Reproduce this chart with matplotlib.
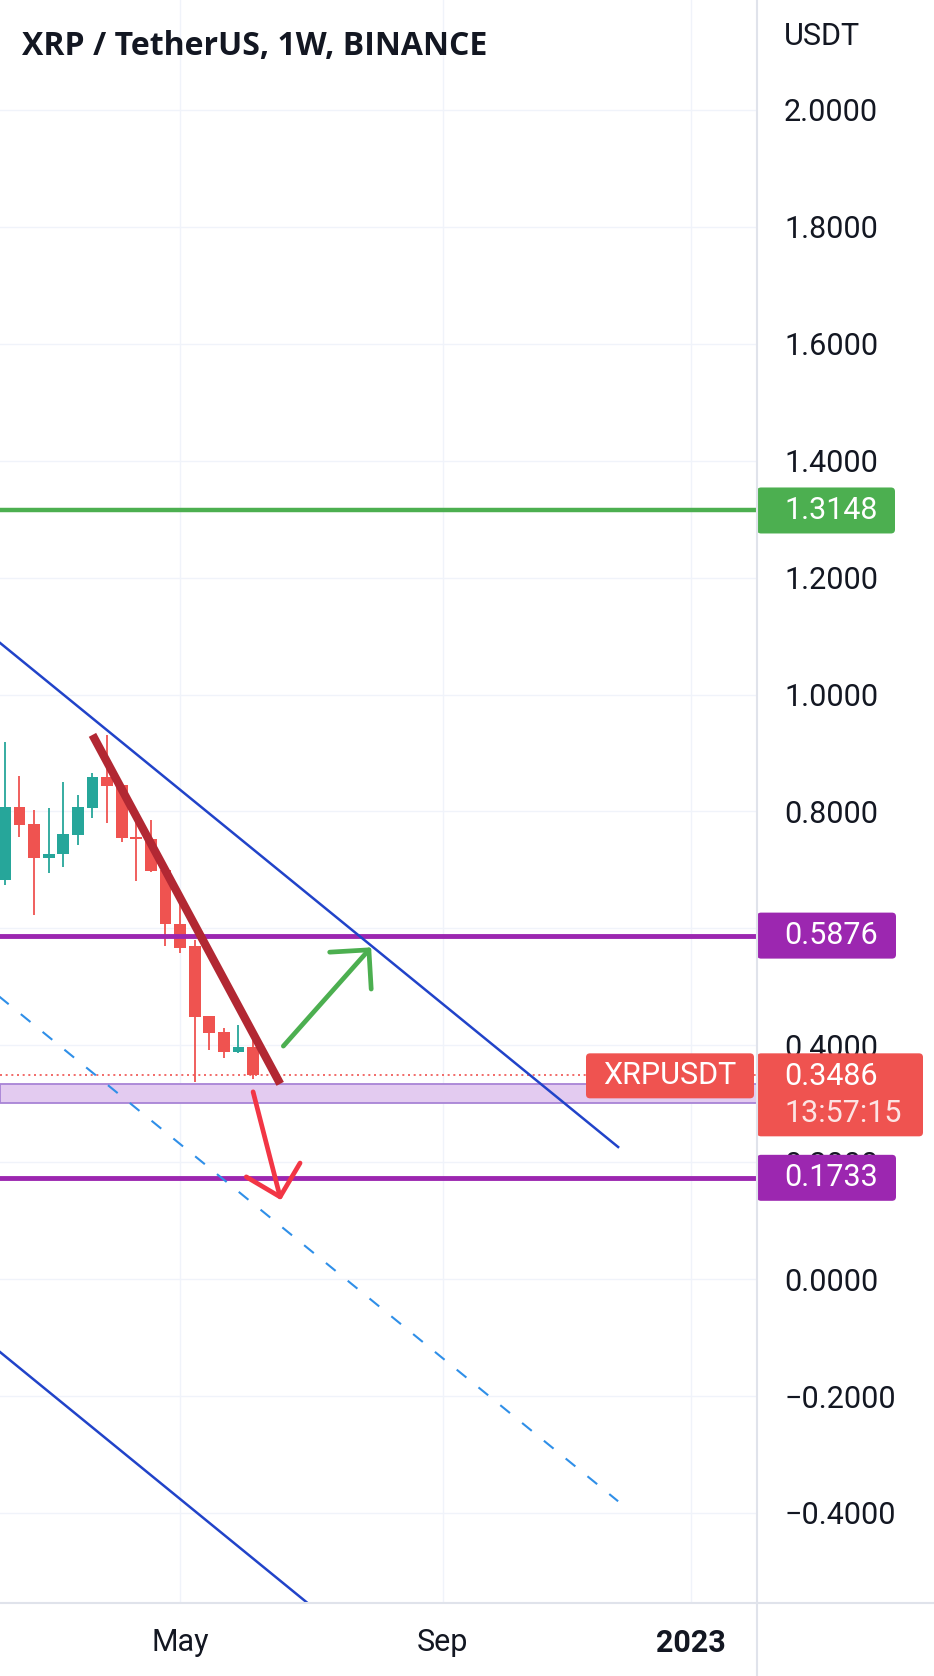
import numpy as np
import pandas as pd
import matplotlib
matplotlib.use('Agg')
import matplotlib.pyplot as plt
from matplotlib.patches import FancyBboxPatch
from matplotlib.lines import Line2D

plt.rcParams['font.family'] = ['Roboto', 'DejaVu Sans']

# weekly candles (XRP/USDT, Binance)
weeks = pd.date_range('2022-02-07', periods=18, freq='7D')
opens = [0.683, 0.808, 0.778, 0.721, 0.727, 0.760, 0.806, 0.859, 0.845,
         0.757, 0.752, 0.700, 0.607, 0.569, 0.450, 0.423, 0.388, 0.397]
highs = [0.919, 0.861, 0.802, 0.806, 0.851, 0.828, 0.866, 0.931, 0.845,
         0.791, 0.786, 0.703, 0.660, 0.580, 0.450, 0.429, 0.435, 0.415]
lows = [0.674, 0.756, 0.623, 0.695, 0.705, 0.743, 0.789, 0.781, 0.748,
        0.681, 0.696, 0.569, 0.558, 0.338, 0.392, 0.378, 0.386, 0.342]
closes = [0.808, 0.777, 0.721, 0.727, 0.761, 0.808, 0.859, 0.843, 0.755,
          0.752, 0.698, 0.607, 0.567, 0.449, 0.421, 0.389, 0.397, 0.3486]

last_price = 0.3486
countdown = '13:57:15'
green_level = 1.3148
purple_levels = [0.5876, 0.1733]
zone = [0.3016, 0.3336]

# drawings (date, price)
chan_top_x = ['2022-02-01', '2022-11-28']
chan_top_y = [1.099, 0.226]
chan_mid_x = ['2022-02-01', '2022-11-28']
chan_mid_y = [0.493, -0.380]
chan_bot_x = ['2022-02-01', '2022-07-10']
chan_bot_y = [-0.114, -0.577]
trend_x = ['2022-03-21', '2022-06-19']
trend_y = [0.931, 0.334]
up_arrow = [('2022-06-20 12:00', 0.3986), ('2022-08-01 14:00', 0.5675)]
down_arrow = [('2022-06-06', 0.3204), ('2022-06-19 08:00', 0.1352)]

yticks = np.round(np.arange(-0.4, 2.01, 0.2), 1)
xtick_dates = ['2022-05-02', '2022-09-05', '2023-01-02']
xtick_labels = ['May', 'Sep', '2023']

up_c = '#26a69a'
down_c = '#ef5350'
txt_c = '#131722'
W, H = 934, 1676

fig = plt.figure(figsize=(W / 100, H / 100), dpi=100)
ax = fig.add_axes([0, 73 / H, 757 / W, 1603 / H])
ax2 = fig.add_axes([757 / W, 73 / H, 177 / W, 1603 / H])

ax.set_xlim(pd.Timestamp('2022-02-04 16:00'), pd.Timestamp('2023-02-02 14:00'))
ax.set_ylim(-0.554, 2.188)

# candles
d = pd.to_datetime(weeks)
cols = [up_c if c >= o else down_c for o, c in zip(opens, closes)]
ax.vlines(d, lows, highs, colors=cols, lw=1.3, zorder=3)
ax.bar(d, np.array(closes) - np.array(opens), bottom=opens, width=5.6,
       color=cols, zorder=3)

# zone + levels
ax.axhspan(zone[0], zone[1], facecolor='#e3cbf0', edgecolor='#a884d6', lw=1.3, zorder=2)
ax.axhline(last_price, color=down_c, lw=1.2, ls=(0, (1.2, 2.2)), zorder=2)
ax.axhline(green_level, color='#4caf50', lw=3.2, zorder=4)
for lv in purple_levels:
    ax.axhline(lv, color='#9c27b0', lw=3.5, zorder=4)

# channel
ax.plot(pd.to_datetime(chan_top_x), chan_top_y, color='#2143c9', lw=1.8, zorder=4)
ax.plot(pd.to_datetime(chan_bot_x), chan_bot_y, color='#2143c9', lw=1.8, zorder=4)
ax.plot(pd.to_datetime(chan_mid_x), chan_mid_y, color='#2f8fe8', lw=1.5,
        ls=(0, (6, 7.5)), zorder=4)
ax.plot(pd.to_datetime(trend_x), trend_y, color='#b22833', lw=6,
        solid_capstyle='butt', zorder=5)

for (t0, p0), (t1, p1), c in [(up_arrow[0], up_arrow[1], '#4caf50'),
                              (down_arrow[0], down_arrow[1], '#f23645')]:
    ax.annotate('', xy=(pd.Timestamp(t1), p1), xytext=(pd.Timestamp(t0), p0),
                arrowprops=dict(arrowstyle='->,head_length=1,head_width=1',
                                mutation_scale=20, color=c, lw=3.4,
                                shrinkA=0, shrinkB=0), zorder=6)

# axes style
for s in ax.spines.values():
    s.set_visible(False)
ax.yaxis.tick_right()
ax.set_yticks(yticks)
ax.set_yticklabels([f'{v:.4f}'.replace('-', '\u2212') for v in yticks])
ax.set_xticks(pd.to_datetime(xtick_dates))
ax.set_xticklabels(xtick_labels)
ax.get_xticklabels()[2].set_fontweight('bold')
ax.tick_params(axis='y', length=0, pad=19.5, labelsize=22, labelcolor=txt_c)
ax.tick_params(axis='x', length=0, pad=18, labelsize=22, labelcolor=txt_c)
ax.grid(color='#f0f3fa', lw=1)
ax.set_axisbelow(True)

fig.add_artist(Line2D([757 / W, 757 / W], [0, 1], color='#e0e3eb', lw=1.5))
fig.add_artist(Line2D([0, 1], [73 / H, 73 / H], color='#e0e3eb', lw=1.5))

fig.text(21.7 / W, 1 - 55 / H, 'XRP / TetherUS, 1W, BINANCE', family='Open Sans',
         fontweight='bold', fontsize=23, color=txt_c, va='baseline')
fig.text(784 / W, 1 - 45 / H, 'USDT', fontsize=22, color=txt_c, va='baseline')

# price scale labels (ax2: x in pixels)
ax2.set_xlim(0, 177)
ax2.set_ylim(ax.get_ylim())
ax2.axis('off')
ppx = (ax.get_ylim()[1] - ax.get_ylim()[0]) / 1603
aspect = ppx


def tag(x0, w, y_top, y_bot, color):
    ax2.add_patch(FancyBboxPatch((x0, y_bot), w, y_top - y_bot,
                                 boxstyle='round,pad=0,rounding_size=4',
                                 mutation_aspect=aspect, fc=color, ec='none',
                                 clip_on=False, zorder=5))


tag(0, 138, green_level + 23 * ppx, green_level - 23 * ppx, '#4caf50')
ax2.text(27, green_level, f'{green_level:.4f}', color='white', fontsize=22,
         va='center', zorder=6)
for lv in purple_levels:
    tag(0, 139, lv + 23 * ppx, lv - 23 * ppx, '#9c27b0')
    ax2.text(27, lv, f'{lv:.4f}', color='white', fontsize=22, va='center', zorder=6)

tag(0, 166, last_price + 22 * ppx, last_price - 61 * ppx, down_c)
ax2.text(27, last_price - 1 * ppx, f'{last_price:.4f}', color='white', fontsize=22,
         va='center', zorder=6)
ax2.text(27, last_price - 38 * ppx, countdown, color='white', alpha=0.85,
         fontsize=22, va='center', zorder=6)

tag(-171, 168, last_price + 22 * ppx, last_price - 23 * ppx, down_c)
ax2.text(-87, last_price, 'XRPUSDT', color='white', fontsize=22, ha='center',
         va='center', zorder=6, clip_on=False)

fig.savefig('out.png', dpi=100, facecolor='white')
